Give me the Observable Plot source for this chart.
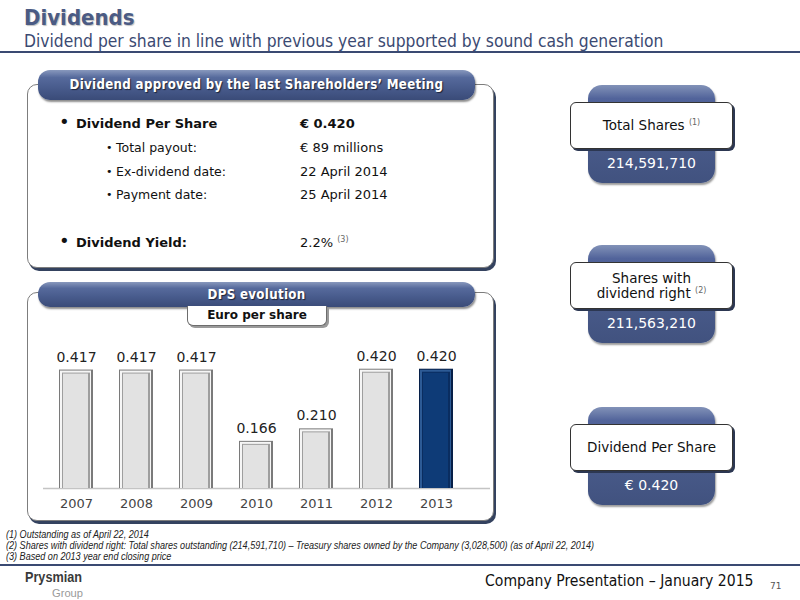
<!DOCTYPE html>
<html>
<head>
<meta charset="utf-8">
<script src="https://cdn.jsdelivr.net/npm/d3@7"></script>
<script src="https://cdn.jsdelivr.net/npm/@observablehq/plot@0.6"></script>
<style>
  html, body { margin:0; padding:0; background:#fff; }
  #page { position:relative; width:800px; height:600px; overflow:hidden; font-family:"DejaVu Sans", Verdana, sans-serif; color:#111; }
  .abs { position:absolute; }
  .title { left:24px; top:5px; font:bold 22px "DejaVu Sans Condensed", "DejaVu Sans", sans-serif; color:#4b5b84; text-shadow:1px 1px 1px rgba(0,0,0,0.25); }
  .subtitle { left:24px; top:31px; font:17.3px "DejaVu Sans Condensed", "DejaVu Sans", sans-serif; color:#3b4a72; white-space:nowrap; }
  .hline { left:0; width:800px; height:2px; background:#3a4a72; }
  .box { background:#fff; border:1px solid #7d7d7d; border-radius:10px; box-shadow:2px 3px 0 #34425f; }
  .pill { border-radius:12px; background:linear-gradient(#8898bd 0%, #566a9c 25%, #485b8c 60%, #3a4b78 100%); box-shadow:1px 2px 2px rgba(0,0,0,0.45); color:#fff; font:bold 13.2px "DejaVu Sans Condensed", "DejaVu Sans", sans-serif; text-align:center; text-shadow:1px 1px 1px rgba(0,0,0,0.6); letter-spacing:0.3px; }
  .row { font-size:13px; white-space:nowrap; color:#111; }
  .b { font-weight:bold; }
  .sup { font-size:8px; color:#666; vertical-align:super; line-height:0; }
  .tab { background:#fff; border:1px solid #6d6d6d; border-top:none; border-radius:0 0 6px 6px; box-shadow:2px 2px 0 #9a9a9a; font-weight:bold; font-size:12px; text-align:center; color:#111; }
  .card { border-radius:14px; background:linear-gradient(#8292b8 0%, #51639a 14%, #4a5c8c 50%, #41527f 100%); box-shadow:1px 2px 2px rgba(0,0,0,0.4); }
  .cardlabel { background:#fff; border:1px solid #333; border-radius:6px; box-shadow:2px 2px 0 #2c3752; font-size:13.5px; text-align:center; color:#111; display:flex; align-items:center; justify-content:center; line-height:15px; }
  .cardval { color:#fff; font-size:14px; text-align:center; width:127px; }
  .foot { left:6px; font:italic 10px "Liberation Sans", Arial, sans-serif; color:#222; white-space:nowrap; transform-origin:0 50%; }
  .narrow { transform-origin:0 50%; white-space:nowrap; }
</style>
</head>
<body>
<div id="page">
  <div class="abs title">Dividends</div>
  <div class="abs subtitle">Dividend per share in line with previous year supported by sound cash generation</div>
  <div class="abs hline" style="top:51px"></div>

  <!-- Box 1 -->
  <div class="abs box" style="left:27px;top:84px;width:465px;height:182px"></div>
  <div class="abs pill" style="left:38px;top:70px;width:437px;height:30px;line-height:30px">Dividend approved by the last Shareholders’ Meeting</div>
  <div id="rows"></div>

  <!-- Box 2 -->
  <div class="abs box" style="left:27px;top:292px;width:465px;height:227px"></div>
  <div class="abs pill" style="left:38px;top:282px;width:437px;height:25px;line-height:25px">DPS evolution</div>
  <div class="abs tab" style="left:187px;top:306px;width:138px;height:19px;line-height:19px">Euro per share</div>
  <div id="chart" class="abs" style="left:30px;top:330px"></div>

  <!-- Cards -->
  <div id="cards"></div>

  <div class="abs foot" style="top:529px">(1) Outstanding as of April 22, 2014</div>
  <div class="abs foot" data-ref="1" style="top:540px">(2) Shares with dividend right: Total shares outstanding (214,591,710) – Treasury shares owned by the Company (3,028,500) (as of April 22, 2014)</div>
  <div class="abs foot" style="top:551px">(3) Based on 2013 year end closing price</div>
  <div class="abs hline" style="top:564px"></div>

  <div class="abs narrow" id="logo1" style="left:25px;top:571px;font:bold 14px 'Liberation Sans',Arial,sans-serif;line-height:13px;color:#3a3a3a">Prysmian</div>
  <div class="abs narrow" id="logo2" style="left:52px;top:588px;font:11px 'Liberation Sans',Arial,sans-serif;line-height:10px;color:#9a9a9a">Group</div>
  <div class="abs" style="left:485px;top:572px;font:15.6px 'DejaVu Sans Condensed','DejaVu Sans',sans-serif;color:#111;white-space:nowrap">Company Presentation – January 2015</div>
  <div class="abs" style="left:770px;top:581px;font:9px 'DejaVu Sans',sans-serif;color:#555">71</div>
</div>

<script>
// ---- Data ----
const years = ["2007", "2008", "2009", "2010", "2011", "2012", "2013"];
const dpsValues = [0.417, 0.417, 0.417, 0.166, 0.210, 0.420, 0.420];
const dpsLabels = ["0.417", "0.417", "0.417", "0.166", "0.210", "0.420", "0.420"];
const highlightYear = "2013";

const detailLabels = ["Dividend Per Share", "Total payout:", "Ex-dividend date:", "Payment date:", "Dividend Yield:"];
const detailValues = ["€ 0.420", "€ 89 millions", "22 April 2014", "25 April 2014", "2.2%"];

const cardTitles = ["Total Shares", "Shares with<br>dividend right", "Dividend Per Share"];
const cardNotes = ["(1)", "(2)", ""];
const cardValues = ["214,591,710", "211,563,210", "€ 0.420"];

// ---- Detail rows ----
const rowsEl = document.getElementById("rows");
const rowTops = [115, 139, 163, 186, 234];
const rowLevel = [0, 1, 1, 1, 0];
detailLabels.forEach((lab, i) => {
  const top = rowTops[i];
  const main = rowLevel[i] === 0;
  const bullet = document.createElement("div");
  bullet.className = "abs row";
  bullet.style.cssText = `left:${main ? 59 : 106}px;top:${top - (main ? 2 : 0)}px;font-size:${main ? 18 : 11}px;line-height:17px`;
  bullet.textContent = "•";
  rowsEl.appendChild(bullet);
  const l = document.createElement("div");
  l.className = "abs row" + (main ? " b" : "");
  l.style.cssText = `left:${main ? 76 : 116}px;top:${top}px;line-height:17px;font-size:${main ? 13 : 12.5}px`;
  l.textContent = lab;
  rowsEl.appendChild(l);
  const v = document.createElement("div");
  v.className = "abs row" + (i === 0 ? " b" : "");
  v.style.cssText = `left:300px;top:${top}px;line-height:17px`;
  v.innerHTML = detailValues[i] + (i === 4 ? ' <span class="sup">(3)</span>' : "");
  rowsEl.appendChild(v);
});

// ---- Cards ----
const cardsEl = document.getElementById("cards");
const cardTops = [85, 245, 407];
cardTitles.forEach((t, i) => {
  const top = cardTops[i];
  const back = document.createElement("div");
  back.className = "abs card";
  back.style.cssText = `left:588px;top:${top}px;width:127px;height:98px`;
  cardsEl.appendChild(back);
  const lab = document.createElement("div");
  lab.className = "abs cardlabel";
  lab.style.cssText = `left:570px;top:${top + 17}px;width:161px;height:45px`;
  lab.innerHTML = `<div>${t}${cardNotes[i] ? ' <span class="sup">' + cardNotes[i] + '</span>' : ""}</div>`;
  cardsEl.appendChild(lab);
  const val = document.createElement("div");
  val.className = "abs cardval";
  val.style.cssText = `left:588px;top:${top + 70}px`;
  val.textContent = cardValues[i];
  cardsEl.appendChild(val);
});

// ---- Fit narrow texts ----
const ref = document.querySelector('.foot[data-ref="1"]');
const footScale = 588 / ref.getBoundingClientRect().width;
document.querySelectorAll(".foot").forEach(el => el.style.transform = `scaleX(${footScale})`);
function fit(id, w) {
  const el = document.getElementById(id);
  el.style.transform = `scaleX(${w / el.getBoundingClientRect().width})`;
}
fit("logo1", 57);
fit("logo2", 31);

// ---- Chart ----
const data = years.map((y, i) => ({year: y, dps: dpsValues[i], label: dpsLabels[i], hl: y === highlightYear}));

const chart = Plot.plot({
  width: 460,
  height: 185,
  marginLeft: 9,
  marginRight: 17,
  marginTop: 16,
  marginBottom: 27,
  style: {fontFamily: "DejaVu Sans, Verdana, sans-serif", fontSize: "13px", color: "#444", background: "transparent", overflow: "visible"},
  x: {domain: years, paddingInner: 0.43, paddingOuter: 0.3, label: null, tickSize: 0, tickPadding: 10},
  y: {domain: [0, 0.5], axis: null},
  marks: [
    Plot.ruleY([0], {stroke: "#c4c4c4", strokeWidth: 1.5, insetLeft: 4, insetRight: -17}),
    Plot.barY(data, {x: "year", y: "dps", fill: d => d.hl ? "#061f48" : "#7a7a7a"}),
    Plot.barY(data, {x: "year", y: "dps", fill: d => d.hl ? "#2d5b96" : "#f6f6f6", insetLeft: 1, insetRight: 2, insetTop: 1}),
    Plot.barY(data, {x: "year", y: "dps", fill: d => d.hl ? "#0a2d60" : "#9e9e9e", insetLeft: 3, insetRight: 3, insetTop: 3}),
    Plot.barY(data, {x: "year", y: "dps", fill: d => d.hl ? "#0e3b77" : "#e2e2e2", insetLeft: 4, insetRight: 5, insetTop: 4}),
    Plot.text(data, {x: "year", y: "dps", text: "label", dy: -13, fontSize: 14, fill: "#222"})
  ]
});
document.getElementById("chart").appendChild(chart);
</script>
</body>
</html>
